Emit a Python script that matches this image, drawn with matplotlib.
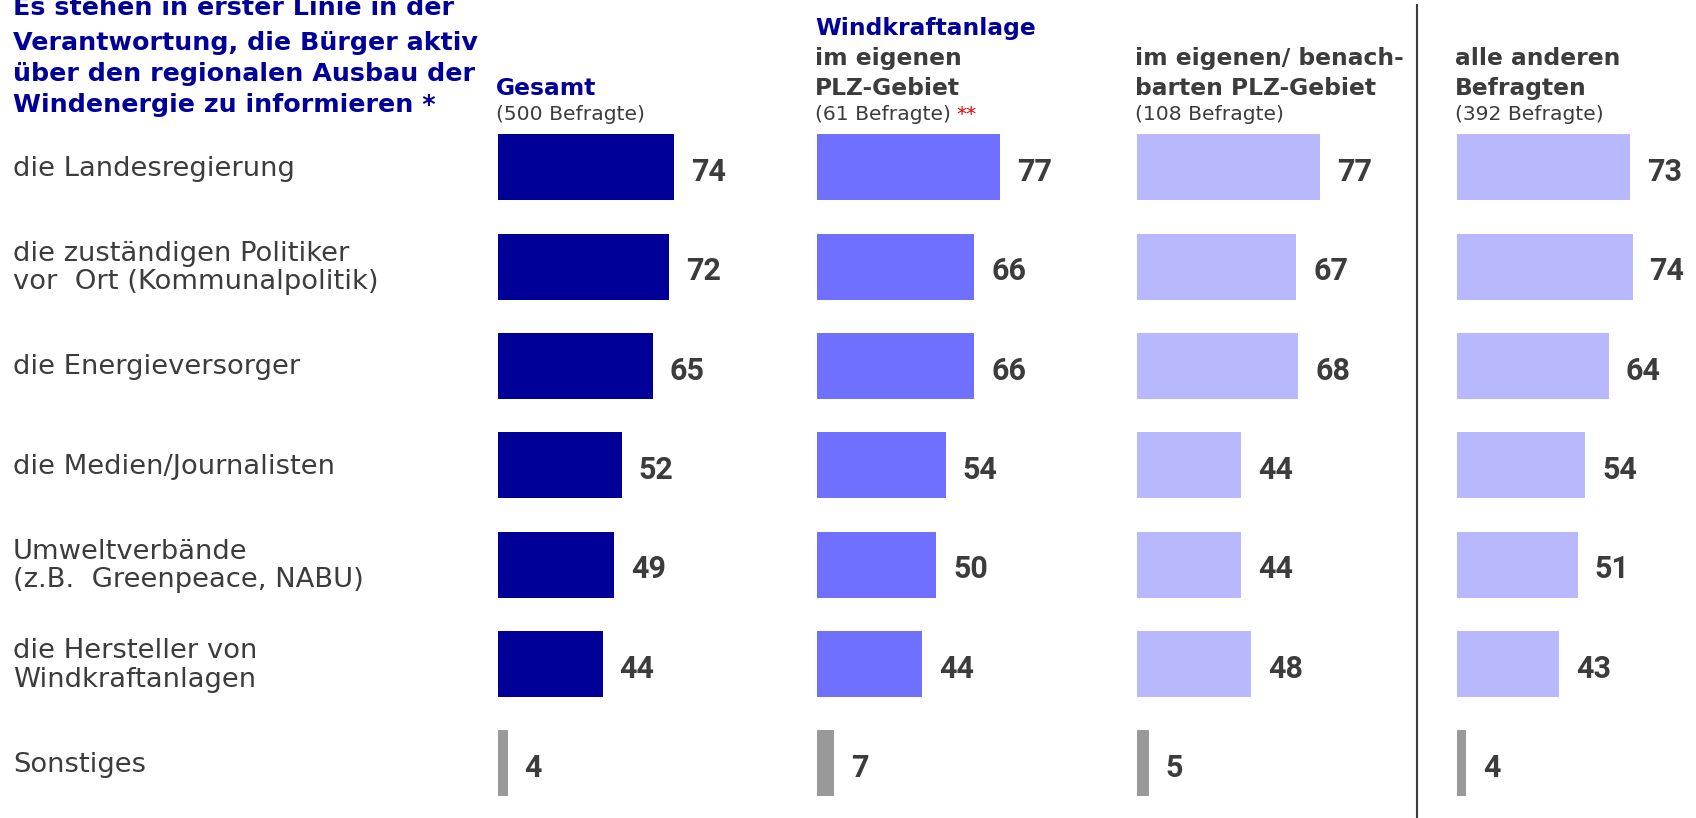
import matplotlib
matplotlib.use("Agg")
import matplotlib.pyplot as plt
from matplotlib.transforms import blended_transform_factory
from matplotlib.lines import Line2D

plt.rcParams["font.family"] = ["DejaVu Sans"]

W, H = 1696, 818

# --- Daten ---
CATEGORIES = [
    "die Landesregierung",
    "die zuständigen Politiker\nvor  Ort (Kommunalpolitik)",
    "die Energieversorger",
    "die Medien/Journalisten",
    "Umweltverbände\n(z.B.  Greenpeace, NABU)",
    "die Hersteller von\nWindkraftanlagen",
    "Sonstiges",
]
GESAMT  = [74, 72, 65, 52, 49, 44, 4]
WKA_PLZ = [77, 66, 66, 54, 50, 44, 7]
NACHBAR = [77, 67, 68, 44, 44, 48, 5]
ANDERE  = [73, 74, 64, 54, 51, 43, 4]

TITLE = ["Es stehen in erster Linie in der",
         "Verantwortung, die Bürger aktiv",
         "über den regionalen Ausbau der",
         "Windenergie zu informieren *"]
HEADS = [
    ["Gesamt"],
    ["Windkraftanlage", "im eigenen", "PLZ-Gebiet"],
    ["im eigenen/ benach-", "barten PLZ-Gebiet"],
    ["alle anderen", "Befragten"],
]
BLUE_LINES = [1, 1, 0, 0]
BEFRAGTE = ["(500 Befragte)", "(61 Befragte)", "(108 Befragte)", "(392 Befragte)"]

# --- Stil ---
BLUE   = "#000099"
TXT    = "#3c3c3c"
COLORS = ["#000099", "#7070ff", "#b8b8ff", "#b8b8ff"]
GREY   = "#999999"
PANEL_LEFT = [498, 817.3, 1136.8, 1456.7]   # px
PX_PER_PCT = 2.377
ROW_TOP, ROW_BOT = 117.6, 813.0             # px von oben
NUM_FONT = ["Roboto", "DejaVu Sans"]

fig = plt.figure(figsize=(W / 100, H / 100), dpi=100)

def fy(px):  # px von oben -> figure fraction
    return 1 - px / H

axes = []
for i, vals in enumerate([GESAMT, WKA_PLZ, NACHBAR, ANDERE]):
    ax = fig.add_axes([PANEL_LEFT[i] / W, fy(ROW_BOT), 100 * PX_PER_PCT / W,
                       (ROW_BOT - ROW_TOP) / H])
    ax.set_xlim(0, 100)
    ax.set_ylim(len(CATEGORIES) - 0.5, -0.5)
    ax.axis("off")
    cols = [COLORS[i]] * (len(vals) - 1) + [GREY]
    ax.barh(range(len(vals)), vals, height=0.664, color=cols, linewidth=0)
    for k, v in enumerate(vals):
        ax.annotate(str(v), (v, k), xytext=(12.2, -9.9), textcoords="offset points",
                    ha="left", va="baseline", fontsize=22, fontweight="bold",
                    family=NUM_FONT, color=TXT, annotation_clip=False)
    axes.append(ax)

# Kategorien links
tr = blended_transform_factory(fig.transFigure, axes[0].transData)
for k, lab in enumerate(CATEGORIES):
    lines = lab.split("\n")
    n = len(lines)
    for j, ln in enumerate(lines):
        dy = 8.4 + (j - (n - 1) / 2) * 28.3
        axes[0].annotate(ln, (13 / W, k), xycoords=tr, xytext=(0, -dy * 0.72),
                         textcoords="offset points", ha="left", va="baseline",
                         fontsize=19.7, color=TXT)

# Titel (erste Zeile oben angeschnitten)
for j, ln in enumerate(TITLE):
    base = 15 if j == 0 else 19 + 31 * j
    fig.text(13 / W, fy(base), ln, ha="left", va="baseline",
             fontsize=18.3, fontweight="bold", color=BLUE)

# Spaltenköpfe
sub_texts = []
for i, lines in enumerate(HEADS):
    x = (PANEL_LEFT[i] - 2) / W
    n = len(lines)
    for j, ln in enumerate(lines):
        base = 95 - 30 * (n - 1 - j)
        fig.text(x, fy(base), ln, ha="left", va="baseline", fontsize=16.8,
                 fontweight="bold", color=BLUE if j < BLUE_LINES[i] else TXT)
    sub_texts.append(fig.text(x, fy(120), BEFRAGTE[i], ha="left", va="baseline",
                              fontsize=14.6, color=TXT))

# rote Sternchen hinter (61 Befragte)
fig.add_artist(plt.Annotation("**", xy=(1, 0), xycoords=sub_texts[1], xytext=(4, 0),
                              textcoords="offset points", ha="left", va="bottom",
                              fontsize=14.6, color="#e00000"))

# Trennlinie
fig.add_artist(Line2D([1416.7 / W] * 2, [0, fy(5)], color=TXT, lw=1.5))

fig.savefig("out.png", dpi=100)
